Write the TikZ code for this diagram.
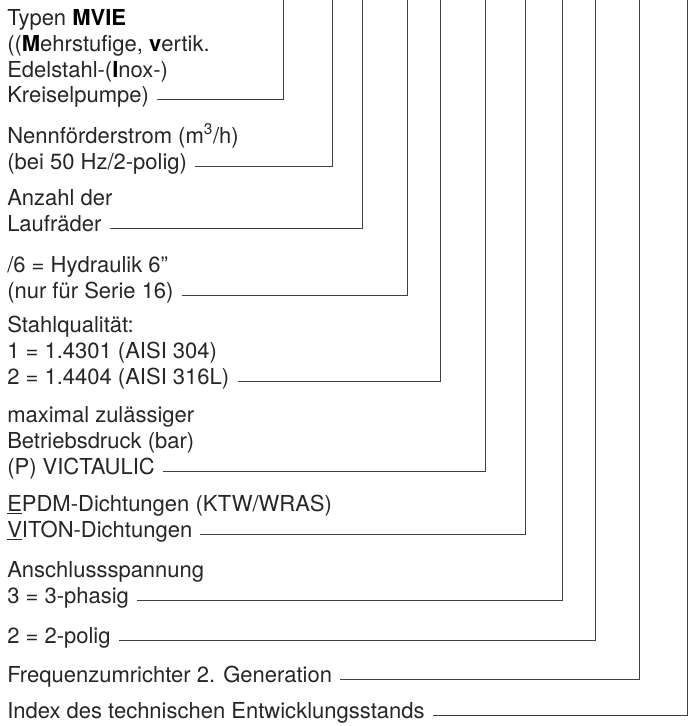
\documentclass[tikz,border=0pt]{standalone}
\usepackage{fontspec}
\setmainfont{TeX Gyre Heros}
\usepackage{tikz}

\newcommand{\hb}[1]{{\color{black}\bfseries #1}}

\tikzset{
  txt/.style={anchor=base west, inner sep=0pt, text=black!85,
    font=\fontsize{16.5}{19.35}\selectfont, align=left},
  lead/.style={draw=black!75, line width=0.75pt},
}

\begin{document}
\begin{tikzpicture}[x=0.75pt, y=-0.75pt]
\useasboundingbox (0,0) rectangle (697,726);

% Typen
\node[txt] (typ-a) at (7,77) {Typen \hb{MVIE}\\((\hb{M}ehrstufige, \hb{v}ertik.\\Edelstahl-(\hb{I}nox-)};
\node[txt] (typ) at (7,102.5) {Kreiselpumpe)};

% Foerderstrom
\node[txt] (nenn-a) at (7,143.3) {Nennförderstrom (m\textsuperscript{3}/h)};
\node[txt] (nenn) at (7,169) {(bei 50 Hz/2-polig)};

% Laufraeder
\node[txt] (anz-a) at (7,205.7) {Anzahl der};
\node[txt] (anz) at (7,231.5) {Laufräder};

% Hydraulik
\node[txt] (hyd-a) at (7,272.2) {/6 = Hydraulik 6”};
\node[txt] (hyd) at (7,298) {(nur für Serie 16)};

% Stahl
\node[txt] (st-a) at (7,358.7) {Stahlqualität:\\1 = 1.4301 (AISI 304)};
\node[txt] (st) at (7,384.5) {2 = 1.4404 (AISI 316L)};

% Druck
\node[txt] (dr-a) at (7,448.7) {maximal zulässiger\\Betriebsdruck (bar)};
\node[txt] (dr) at (7,474.5) {(P) VICTAULIC};

% Dichtungen
\node[txt] (di-a) at (7,511.7) {\underline{E}PDM-Dichtungen (KTW/WRAS)};
\node[txt] (di) at (7,537.5) {\underline{V}ITON-Dichtungen};

% Spannung
\node[txt] (sp-a) at (7,577.7) {Anschlussspannung};
\node[txt] (sp) at (7,603.5) {3 = 3-phasig};

\node[txt] (pol) at (7,643.5) {2 = 2-polig};
\node[txt] (fu) at (7,682) {Frequenzumrichter 2. Generation};
\node[txt] (idx) at (7,718.5) {Index des technischen Entwicklungsstands};

% leader lines
\foreach \n/\x in {typ/283, nenn/332, anz/362, hyd/407, st/440,
                   dr/485, di/525, sp/562, pol/595, fu/639, idx/687} {
  \coordinate (\n-top) at (\x,0);
  \draw[lead] ([xshift=6pt,yshift=1.9pt]\n.base east) -| (\n-top);
}
\end{tikzpicture}
\end{document}
